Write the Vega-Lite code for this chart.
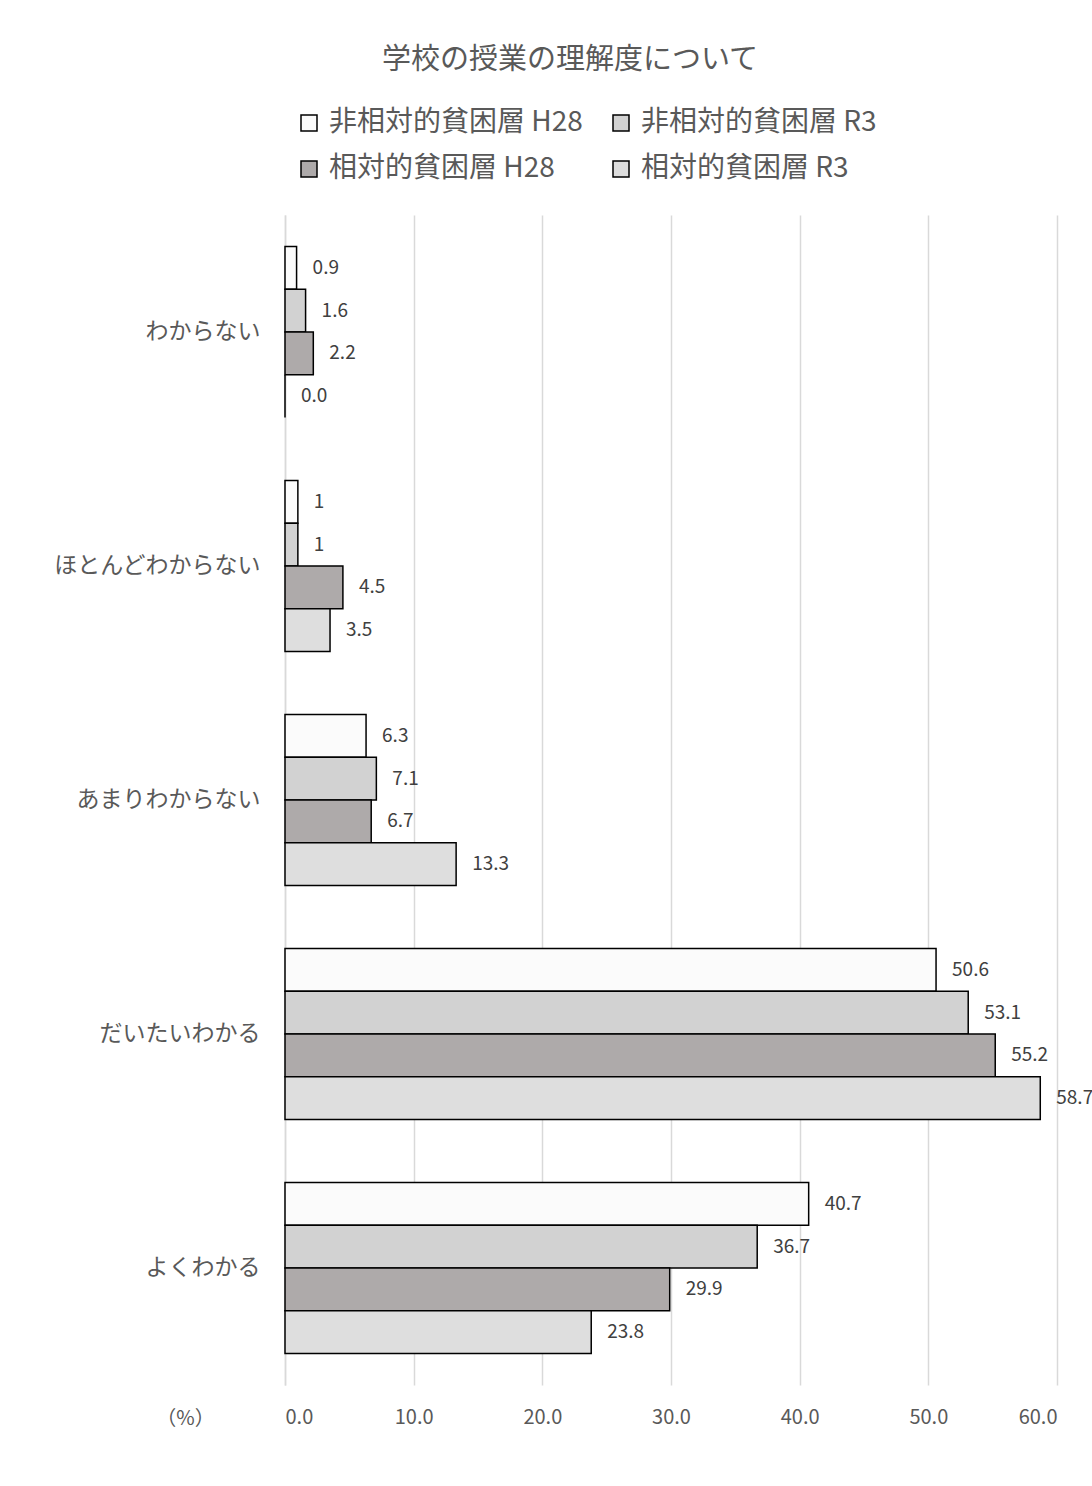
{
  "$schema": "https://vega.github.io/schema/vega-lite/v6.json",
  "autosize": "none",
  "width": 772,
  "height": 1170,
  "padding": {"left": 285, "top": 215, "right": 35, "bottom": 101},
  "background": "white",
  "config": {
    "font": "Noto Sans CJK JP",
    "view": {"stroke": null}
  },
  "title": {
    "text": "学校の授業の理解度について",
    "fontSize": 29,
    "fontWeight": "normal",
    "color": "#595959",
    "anchor": "middle",
    "frame": "group",
    "dx": -101,
    "offset": 34
  },
  "data": {
    "values": [
      {"category": "わからない", "series": "非相対的貧困層 H28", "value": 0.9, "label": "0.9"},
      {"category": "わからない", "series": "非相対的貧困層 R3", "value": 1.6, "label": "1.6"},
      {"category": "わからない", "series": "相対的貧困層 H28", "value": 2.2, "label": "2.2"},
      {"category": "わからない", "series": "相対的貧困層 R3", "value": 0.0, "label": "0.0"},
      {"category": "ほとんどわからない", "series": "非相対的貧困層 H28", "value": 1, "label": "1"},
      {"category": "ほとんどわからない", "series": "非相対的貧困層 R3", "value": 1, "label": "1"},
      {"category": "ほとんどわからない", "series": "相対的貧困層 H28", "value": 4.5, "label": "4.5"},
      {"category": "ほとんどわからない", "series": "相対的貧困層 R3", "value": 3.5, "label": "3.5"},
      {"category": "あまりわからない", "series": "非相対的貧困層 H28", "value": 6.3, "label": "6.3"},
      {"category": "あまりわからない", "series": "非相対的貧困層 R3", "value": 7.1, "label": "7.1"},
      {"category": "あまりわからない", "series": "相対的貧困層 H28", "value": 6.7, "label": "6.7"},
      {"category": "あまりわからない", "series": "相対的貧困層 R3", "value": 13.3, "label": "13.3"},
      {"category": "だいたいわかる", "series": "非相対的貧困層 H28", "value": 50.6, "label": "50.6"},
      {"category": "だいたいわかる", "series": "非相対的貧困層 R3", "value": 53.1, "label": "53.1"},
      {"category": "だいたいわかる", "series": "相対的貧困層 H28", "value": 55.2, "label": "55.2"},
      {"category": "だいたいわかる", "series": "相対的貧困層 R3", "value": 58.7, "label": "58.7"},
      {"category": "よくわかる", "series": "非相対的貧困層 H28", "value": 40.7, "label": "40.7"},
      {"category": "よくわかる", "series": "非相対的貧困層 R3", "value": 36.7, "label": "36.7"},
      {"category": "よくわかる", "series": "相対的貧困層 H28", "value": 29.9, "label": "29.9"},
      {"category": "よくわかる", "series": "相対的貧困層 R3", "value": 23.8, "label": "23.8"}
    ]
  },
  "encoding": {
    "y": {
      "field": "category",
      "type": "nominal",
      "sort": ["わからない", "ほとんどわからない", "あまりわからない", "だいたいわかる", "よくわかる"],
      "scale": {"paddingInner": 0.27, "paddingOuter": 0.135},
      "axis": {
        "title": null,
        "ticks": false,
        "domain": true,
        "domainColor": "#d9d9d9",
        "domainWidth": 1.5,
        "labelFontSize": 23,
        "labelColor": "#595959",
        "labelPadding": 25,
        "labelLimit": 400,
        "labelFont": "Noto Sans CJK JP"
      }
    },
    "yOffset": {
      "field": "series",
      "type": "nominal",
      "sort": ["非相対的貧困層 H28", "非相対的貧困層 R3", "相対的貧困層 H28", "相対的貧困層 R3"],
      "scale": {"paddingInner": 0, "paddingOuter": 0}
    },
    "x": {
      "field": "value",
      "type": "quantitative",
      "scale": {"domain": [0, 60], "nice": false},
      "axis": {
        "title": "（%）",
        "titleX": -100,
        "titleY": 33,
        "titleAlign": "center",
        "titleBaseline": "middle",
        "titleFontSize": 20,
        "titleFontWeight": "normal",
        "titleColor": "#595959",
        "values": [0, 10, 20, 30, 40, 50, 60],
        "format": ".1f",
        "grid": true,
        "gridColor": "#d9d9d9",
        "gridWidth": 1.5,
        "domain": false,
        "ticks": false,
        "labelFontSize": 20,
        "labelColor": "#595959",
        "labelPadding": 22,
        "labelFont": "Noto Sans CJK JP"
      }
    }
  },
  "layer": [
    {
      "mark": {"type": "bar", "stroke": "black", "strokeWidth": 1.5},
      "encoding": {
        "fill": {
          "field": "series",
          "type": "nominal",
          "scale": {
            "domain": ["非相対的貧困層 H28", "相対的貧困層 H28", "非相対的貧困層 R3", "相対的貧困層 R3"],
            "range": ["#fbfbfb", "#aeaaaa", "#d2d2d2", "#dedede"]
          },
          "legend": {
            "title": null,
            "orient": "none",
            "legendX": 10,
            "legendY": -106,
            "columns": 2,
            "columnPadding": 24,
            "rowPadding": 18,
            "symbolType": "square",
            "symbolSize": 256,
            "symbolStrokeColor": "black",
            "symbolStrokeWidth": 1.5,
            "labelFontSize": 28,
            "labelColor": "#595959",
            "labelOffset": 6,
            "labelFont": "Noto Sans CJK JP",
            "labelLimit": 400
          }
        }
      }
    },
    {
      "mark": {"type": "text", "align": "left", "baseline": "middle", "dx": 16, "fontSize": 19, "color": "#404040"},
      "encoding": {
        "text": {"field": "label", "type": "nominal"}
      }
    }
  ]
}
